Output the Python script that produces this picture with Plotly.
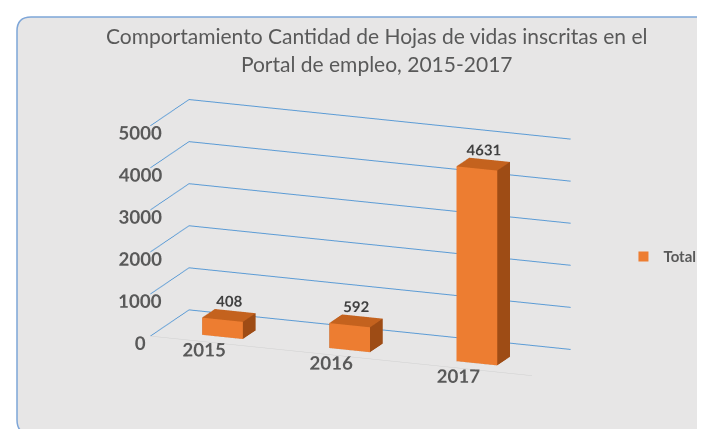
import plotly.graph_objects as go

years = ["2015", "2016", "2017"]
values = [408, 592, 4631]
z_ticks = [0, 1000, 2000, 3000, 4000, 5000]
series_name = "Total"

FRONT = "#ED7D31"
TOP = "#C4621E"
SIDE = "#9E4C15"

half_w = 0.16
y0, y1 = 0.22, 0.55

xs, ys, zs, ii, jj, kk, fc = [], [], [], [], [], [], []
faces = [
    ((0, 1, 5), FRONT), ((0, 5, 4), FRONT),
    ((3, 2, 6), SIDE), ((3, 6, 7), SIDE),
    ((0, 3, 7), SIDE), ((0, 7, 4), SIDE),
    ((1, 2, 6), SIDE), ((1, 6, 5), SIDE),
    ((4, 5, 6), TOP), ((4, 6, 7), TOP),
    ((0, 1, 2), SIDE), ((0, 2, 3), SIDE),
]
for idx, v in enumerate(values):
    xa, xb = idx - half_w, idx + half_w
    base = len(xs)
    corners = [(xa, y0, 0), (xb, y0, 0), (xb, y1, 0), (xa, y1, 0),
               (xa, y0, v), (xb, y0, v), (xb, y1, v), (xa, y1, v)]
    for cx, cy, cz in corners:
        xs.append(cx); ys.append(cy); zs.append(cz)
    for (a, b, c), col in faces:
        ii.append(base + a); jj.append(base + b); kk.append(base + c); fc.append(col)

fig = go.Figure()
fig.add_trace(go.Mesh3d(
    x=xs, y=ys, z=zs, i=ii, j=jj, k=kk, facecolor=fc, flatshading=True,
    lighting=dict(ambient=1, diffuse=0, specular=0, roughness=1, fresnel=0),
    hoverinfo="skip", showlegend=False, name=series_name,
))
fig.add_trace(go.Scatter3d(
    x=list(range(len(years))), y=[(y0 + y1) / 2] * len(years),
    z=[v + 340 for v in values], mode="text", textposition="middle center",
    text=[str(v) for v in values],
    textfont=dict(family="Lato", size=15, color="#404040", weight="bold"),
    hoverinfo="skip", showlegend=False,
))
fig.add_trace(go.Scatter3d(
    x=[None], y=[None], z=[None], mode="markers", name=series_name,
    marker=dict(symbol="square", size=10, color=FRONT), hoverinfo="skip",
))

rx, ry = 14 / 705, 14 / 429
L, R, T, B = 9 / 705, 1.05, 1 - 9 / 429, 1 - 426 / 429
path = (f"M {L+rx},{T} L {R-rx},{T} Q {R},{T} {R},{T-ry} L {R},{B+ry} Q {R},{B} {R-rx},{B} "
        f"L {L+rx},{B} Q {L},{B} {L},{B+ry} L {L},{T-ry} Q {L},{T} {L+rx},{T} Z")
fig.add_shape(type="path", path=path, xref="paper", yref="paper", layer="below",
              fillcolor="#E7E6E6", line=dict(color="#7EA6D8", width=1.5))

tick_font = dict(family="Lato", size=15, color="#595959", weight="bold")
axis_common = dict(showbackground=False, zeroline=False, showspikes=False,
                   title=dict(text=""), tickangle=0)
fig.update_layout(
    width=705, height=429,
    margin=dict(l=0, r=0, t=0, b=0),
    paper_bgcolor="white",
    title=dict(text="Comportamiento Cantidad de Hojas de vidas inscritas en el<br>Portal de empleo, 2015-2017",
               x=0.523, xanchor="center", y=0.915, yanchor="top",
               font=dict(family="Lato", size=21, color="#595959")),
    legend=dict(x=0.873, y=0.42, yanchor="middle", itemwidth=30,
                font=dict(family="Lato", size=15, color="#595959", weight="bold"),
                bgcolor="rgba(0,0,0,0)"),
    scene=dict(
        domain=dict(x=[0.0, 1.0], y=[0.0, 1.0]),
        xaxis=dict(range=[-0.5, 2.5], tickvals=[0, 1, 2], ticktext=years, showgrid=False,
                   ticks="outside", ticklen=14, tickcolor="rgba(0,0,0,0)",
                   showline=True, linecolor="#D0D0D0", tickfont=tick_font, **axis_common),
        yaxis=dict(range=[0, 1], showgrid=False, showline=False, showticklabels=False, ticks="", **axis_common),
        zaxis=dict(range=[0, 5000], tickvals=z_ticks, showgrid=True, gridcolor="#5B9BD5", gridwidth=2,
                   ticks="outside", ticklen=14, tickcolor="rgba(0,0,0,0)",
                   showline=False, tickfont=tick_font, **axis_common),
        aspectmode="manual", aspectratio=dict(x=1.91, y=0.495, z=1.017),
        camera=dict(eye=dict(x=1.259, y=-3.221, z=1.024), center=dict(x=0.0, y=0, z=0.073),
                    up=dict(x=0, y=0, z=1), projection=dict(type="orthographic")),
        bgcolor="rgba(0,0,0,0)",
    ),
)
fig.write_html("out.html")
